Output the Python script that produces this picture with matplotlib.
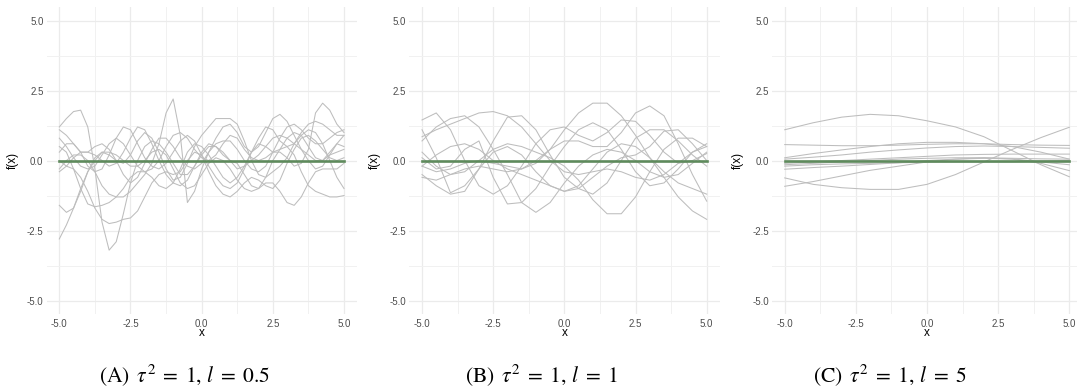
import numpy as np
import matplotlib.pyplot as plt

plt.rcParams['font.family'] = ['Liberation Sans', 'DejaVu Sans']
plt.rcParams['mathtext.fontset'] = 'stix'

# sample positions of the drawn curves
x_a = np.linspace(-5, 5, 41)
x_b = np.linspace(-5, 5, 21)
x_c = np.linspace(-5, 5, 11)
mean_value = 0.0

# (A) tau^2 = 1, l = 0.5
a1 = [1.2, 1.5, 1.75, 1.8, 1.2, -0.3, -2.2, -3.2, -2.9, -1.9, -0.8, 0.0, 0.5, 0.7, 0.6, 0.3, -0.1, -0.5, -0.5, -0.2, 0.2,
      0.5, 0.5, 0.3, 0.0, -0.3, -0.2, 0.0, 0.2, 0.5, 0.8, 0.9, 0.8, 0.6, 0.4, 0.2, 0.0, 0.0, 0.2, 0.3, 0.4]
a2 = [-0.3, 0.0, 0.2, 0.2, 0.0, -0.4, -0.9, -1.2, -1.3, -1.3, -1.1, -0.8, -0.5, -0.1, 0.6, 1.7, 2.2, 0.9, -1.5, -1.1, -0.3,
      0.3, 0.6, 0.7, 0.7, 0.4, 0.0, -0.3, -0.4, -0.2, 0.3, 0.8, 1.2, 1.3, 1.1, 0.8, 0.6, 0.6, 0.8, 1.0, 1.1]
a3 = [0.8, 0.5, 0.1, -0.2, -0.3, -0.2, 0.2, 0.6, 0.8, 0.6, 0.2, -0.2, -0.4, -0.3, 0.0, 0.5, 0.9, 1.0, 0.8, 0.4, 0.1,
      0.0, 0.2, 0.6, 0.9, 0.8, 0.4, 0.1, 0.0, 0.1, 0.3, 0.3, 0.1, -0.2, -0.1, 0.4, 1.7, 2.05, 1.8, 1.3, 1.0]
a4 = [-2.8, -2.3, -1.7, -1.0, -0.4, 0.0, 0.3, 0.3, 0.2, 0.0, -0.2, -0.2, 0.0, 0.3, 0.4, 0.2, -0.3, -0.8, -1.0, -0.9, -0.5,
      -0.1, 0.1, 0.0, -0.3, -0.7, -1.0, -1.1, -1.0, -0.8, -0.8, -1.1, -1.5, -1.6, -1.3, -0.8, -0.4, -0.3, -0.3, -0.3, -0.1]
a5 = [-1.6, -1.85, -1.7, -1.1, -0.4, 0.1, 0.3, 0.2, 0.0, -0.1, 0.2, 0.7, 1.0, 0.8, 0.3, -0.3, -0.7, -0.6, -0.1, 0.5, 0.9,
      1.2, 1.5, 1.5, 1.5, 1.3, 0.7, 0.0, -0.5, -0.6, -0.4, -0.2, 0.1, 0.6, 1.0, 1.3, 1.4, 1.3, 1.1, 0.9, 0.9]
a6 = [0.5, 0.3, -0.3, -1.0, -1.55, -1.65, -1.6, -1.5, -1.3, -1.0, -0.6, -0.4, -0.4, -0.6, -0.9, -1.0, -0.8, -0.3, 0.3, 0.6, 0.5,
      0.2, -0.2, -0.6, -0.8, -0.6, -0.2, 0.3, 0.8, 1.2, 1.1, 0.7, 0.5, 0.6, 0.9, 1.1, 1.0, 0.6, 0.0, -0.6, -1.0]
a7 = [0.0, -0.2, -0.3, -0.6, -1.1, -1.7, -2.1, -2.25, -2.2, -2.1, -2.05, -1.8, -1.3, -0.8, -0.5, -0.4, -0.5, -0.4, 0.0, 0.3, 0.2,
      -0.2, -0.6, -0.9, -1.0, -0.8, -0.3, 0.3, 0.6, 0.5, 0.3, 0.4, 0.8, 1.0, 0.9, 0.5, 0.1, 0.0, 0.3, 0.6, 0.5]
a8 = [1.1, 0.9, 0.6, 0.3, 0.3, 0.5, 0.6, 0.4, 0.0, -0.5, -0.8, -0.6, -0.1, 0.4, 0.8, 0.8, 0.5, 0.1, -0.2, -0.3, -0.1,
      0.3, 0.8, 1.2, 1.3, 1.0, 0.5, 0.3, 0.5, 1.0, 1.5, 1.65, 1.4, 0.9, 0.4, 0.0, -0.3, -0.2, 0.2, 0.6, 0.9]
a9 = [-0.4, -0.2, 0.1, 0.3, 0.3, 0.2, 0.0, -0.2, -0.1, 0.3, 0.8, 1.2, 1.1, 0.6, 0.0, -0.5, -0.8, -0.9, -0.7, -0.2, 0.3,
      0.6, 0.5, 0.2, 0.0, -0.1, -0.5, -0.9, -1.0, -0.6, 0.0, 0.4, 0.5, 0.2, -0.4, -0.9, -1.1, -1.2, -1.3, -1.3, -1.25]
a10 = [0.3, 0.6, 0.6, 0.3, -0.2, -0.4, -0.3, 0.2, 0.8, 1.2, 1.1, 0.6, 0.1, -0.2, -0.3, -0.1, 0.3, 0.7, 0.9, 0.7, 0.2,
       -0.4, -0.9, -1.2, -1.3, -1.1, -0.8, -0.6, -0.7, -0.9, -1.0, -0.7, -0.1, 0.4, 0.8, 0.9, 0.7, 0.4, 0.1, 0.0, 0.1]

# (B) tau^2 = 1, l = 1
b1 = [1.45, 1.7, 1.1, 0.0, -0.9, -1.2, -0.9, -0.2, 0.6, 1.1, 1.2, 0.9, 0.7, 1.0, 1.45, 1.4, 0.9, 0.3, -0.1, 0.0, 0.25]
b2 = [1.1, 0.1, -1.15, -0.9, -0.3, 0.3, 0.5, 0.2, -0.4, -0.9, -1.1, -0.9, -0.3, 0.3, 0.6, 0.5, 0.1, -0.4, -0.8, -1.0, -1.2]
b3 = [0.7, 1.2, 1.5, 1.6, 1.2, 0.4, -0.5, -1.5, -1.85, -1.5, -0.8, -0.2, 0.2, 0.4, 0.3, 0.0, -0.4, -0.6, -0.5, -0.1, 0.3]
b4 = [0.85, 1.1, 1.3, 1.5, 1.7, 1.75, 1.6, 1.2, 0.6, 0.0, -0.4, -0.5, -0.4, -0.3, -0.4, -0.6, -0.7, -0.5, -0.1, 0.3, 0.5]
b5 = [0.1, -0.3, -0.2, 0.4, 0.7, -0.6, -1.55, -1.5, -1.0, -0.2, 0.5, 1.1, 1.35, 1.1, 0.4, -0.4, -0.9, -0.8, -0.3, 0.3, 0.6]
b6 = [-0.5, -0.9, -1.2, -1.1, -0.3, 0.7, 1.55, 1.6, 1.1, 0.2, -0.6, -1.0, -1.2, -0.8, 0.0, 0.8, 1.1, 1.1, 0.7, 0.2, -0.2]
b7 = [-0.2, -0.4, -0.3, -0.1, 0.0, -0.1, -0.2, -0.3, -0.1, 0.4, 1.1, 1.7, 2.05, 2.05, 1.6, 0.9, 0.1, -0.6, -1.3, -1.8, -2.1]
b8 = [-0.6, -0.7, -0.5, -0.3, -0.2, -0.3, -0.4, -0.3, 0.0, 0.4, 0.7, 0.7, 0.5, 0.5, 1.0, 1.7, 1.95, 1.6, 0.6, -0.5, -1.45]
b9 = [0.3, -0.2, -0.5, -0.4, 0.0, 0.4, 0.6, 0.5, 0.3, 0.1, -0.2, -0.7, -1.4, -1.9, -1.9, -1.3, -0.4, 0.4, 0.8, 0.8, 0.5]
b10 = [-0.2, 0.2, 0.5, 0.6, 0.4, 0.0, -0.3, -0.5, -0.7, -0.9, -1.1, -1.0, -0.6, -0.2, 0.1, 0.2, 0.5, 1.05, 1.1, 0.6, 0.0]

# (C) tau^2 = 1, l = 5
c1 = [1.1, 1.35, 1.55, 1.65, 1.6, 1.42, 1.2, 0.85, 0.35, -0.15, -0.58]
c2 = [-0.62, -0.85, -0.97, -1.03, -1.03, -0.85, -0.5, -0.05, 0.4, 0.82, 1.19]
c3 = [-0.92, -0.75, -0.55, -0.35, -0.2, -0.05, 0.05, 0.1, 0.05, -0.1, -0.36]
c4 = [0.57, 0.55, 0.53, 0.53, 0.55, 0.58, 0.6, 0.6, 0.57, 0.55, 0.54]
c5 = [0.1, 0.25, 0.38, 0.5, 0.6, 0.65, 0.65, 0.6, 0.5, 0.3, 0.05]
c6 = [0.05, 0.12, 0.2, 0.3, 0.38, 0.45, 0.5, 0.52, 0.5, 0.47, 0.44]
c7 = [-0.1, -0.05, 0.0, 0.05, 0.1, 0.15, 0.2, 0.22, 0.23, 0.23, 0.23]
c8 = [-0.2, -0.15, -0.12, -0.1, -0.08, -0.06, -0.05, -0.05, -0.05, -0.02, 0.0]
c9 = [-0.31, -0.25, -0.2, -0.14, -0.08, 0.0, 0.05, 0.08, 0.06, -0.05, -0.15]
c10 = [-0.15, -0.1, -0.05, 0.0, 0.05, 0.08, 0.1, 0.1, 0.08, 0.06, 0.05]

curves_a = [a1, a2, a3, a4, a5, a6, a7, a8, a9, a10]
curves_b = [b1, b2, b3, b4, b5, b6, b7, b8, b9, b10]
curves_c = [c1, c2, c3, c4, c5, c6, c7, c8, c9, c10]

tick_values = [-5, -2.5, 0, 2.5, 5]
tick_labels = ['-5.0', '-2.5', '0.0', '2.5', '5.0']
minor_values = [-3.75, -1.25, 1.25, 3.75]
captions = [r'(A) $\,\tau^2 \;=\; 1,\, l \;=\; 0.5$',
            r'(B) $\,\tau^2 \;=\; 1,\, l \;=\; 1$',
            r'(C) $\,\tau^2 \;=\; 1,\, l \;=\; 5$']

W, H = 1077, 390
fig = plt.figure(figsize=(W / 100, H / 100), dpi=100)

panel_left = [46.5, 409.2, 771.9]   # pixels
panel_w, panel_h, panel_bottom = 310.3, 306.3, 313.7
caption_x = [184, 541, 890]

panels = [(x_a, curves_a), (x_b, curves_b), (x_c, curves_c)]
for i, (xs, curves) in enumerate(panels):
    ax = fig.add_axes([panel_left[i] / W, (H - panel_bottom) / H, panel_w / W, panel_h / H])
    for y in curves:
        ax.plot(xs, y, color='#bdbdbd', lw=0.75, solid_joinstyle='round')
    ax.plot(xs, np.full_like(xs, mean_value), color='#5e8a5c', lw=1.9)

    ax.set_xlim(-5.45, 5.45)
    ax.set_ylim(-5.47, 5.47)
    ax.set_xticks(tick_values)
    ax.set_xticklabels(tick_labels)
    ax.set_yticks(tick_values)
    ax.set_yticklabels(tick_labels)
    ax.set_xticks(minor_values, minor=True)
    ax.set_yticks(minor_values, minor=True)
    ax.grid(which='major', color='#ebebeb', lw=0.9)
    ax.grid(which='minor', color='#f1f1f1', lw=0.7)
    ax.set_axisbelow(True)
    ax.tick_params(which='both', length=0, labelsize=7, labelcolor='#4d4d4d')
    ax.tick_params(axis='x', pad=3.5)
    ax.tick_params(axis='y', pad=2.2)
    for s in ax.spines.values():
        s.set_visible(False)

    ax.set_xlabel('x', fontsize=8.5)
    ax.xaxis.set_label_coords(0.5, -19.3 / panel_h)
    ax.xaxis.label.set_va('center')
    ax.set_ylabel('f(x)', fontsize=8.5)
    ax.yaxis.set_label_coords(-34 / panel_w, 0.5)
    ax.yaxis.label.set_va('center')

    fig.text(caption_x[i] / W, 1 - 375 / H, captions[i], ha='center', va='center',
             fontsize=15.5, family='STIXGeneral')

fig.savefig('out.png', dpi=100)
